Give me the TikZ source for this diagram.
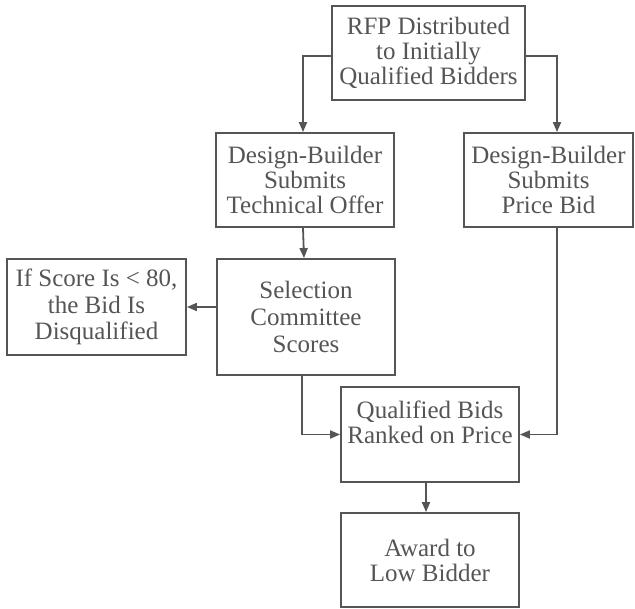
\documentclass[tikz,border=0pt]{standalone}
\usepackage{fontspec}
\setmainfont{Liberation Serif}
\usetikzlibrary{arrows.meta}
\definecolor{ink}{RGB}{85,85,85}
\begin{document}
\begin{tikzpicture}[x=1pt,y=-1pt,
  box/.style={draw=ink, line width=1.8pt, text=ink, align=center,
    inner sep=0pt, font=\fontsize{25}{25}\selectfont},
  arr/.style={draw=ink, line width=1.8pt,
    -{Triangle[length=10pt,width=8pt]}}]
\useasboundingbox (0,0) rectangle (635,609);

% process boxes
\node[box, minimum width=193pt, minimum height=94pt] (rfp) at (428.5,53)
  {RFP Distributed\\to Initially\\Qualified Bidders};
\node[box, minimum width=178pt, minimum height=94pt] (tech) at (305,180)
  {Design-Builder\\Submits\\Technical Offer};
\node[box, minimum width=169pt, minimum height=94pt] (price) at (548.5,180)
  {Design-Builder\\Submits\\Price Bid};
\node[box, minimum width=178pt, minimum height=116pt, font=\fontsize{25}{27}\selectfont] (sel) at (306,317)
  {Selection\\Committee\\Scores};
\node[box, minimum width=179pt, minimum height=96pt, font=\fontsize{25}{26.5}\selectfont] (disq) at (96.5,307)
  {If Score Is < 80,\\the Bid Is\\Disqualified};
\node[box, minimum width=178pt, minimum height=95pt] (rank) at (430,434.5)
  {Qualified Bids\\Ranked on Price\\~};
\node[box, minimum width=178pt, minimum height=94pt] (award) at (430,560)
  {Award to\\Low Bidder};

% price-side routing column
\coordinate (pcol) at ([xshift=8.5pt]price.north);
\coordinate (pcolb) at ([xshift=8.5pt]price.south);

% connectors
\draw[arr] ([yshift=-3pt]rfp.west) -| ([xshift=-2pt]tech.north);
\draw[arr] ([yshift=-3pt]rfp.east) -| (pcol);
\draw[arr] ([xshift=-2pt]tech.south) -- ([xshift=-2pt]sel.north);
\draw[arr] (sel.west |- disq.east) -- (disq.east);
\draw[arr] ([xshift=-4pt]sel.south) |- (rank.west);
\draw[arr] (pcolb) |- (rank.east);
\draw[arr] ([xshift=-4pt]rank.south) -- ([xshift=-4pt]award.north);
\end{tikzpicture}
\end{document}
